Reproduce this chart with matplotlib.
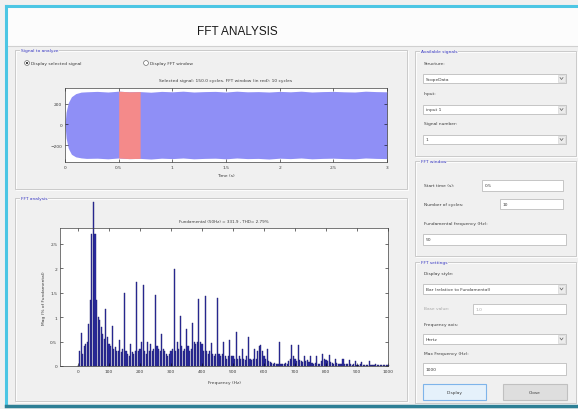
import matplotlib.pyplot as plt
from matplotlib.patches import Rectangle, Circle

W, H = 578, 410

# selected signal: envelope of the scope trace (V) over the 3 s record
sig_time = [0.0, 0.01, 0.03, 0.06, 0.1, 0.15, 0.2, 0.3, 0.4, 0.5, 0.6, 0.7,
            0.8, 0.9, 1.0, 1.1, 1.2, 1.3, 1.4, 1.5, 1.6, 1.7, 1.8, 1.9, 2.0,
            2.1, 2.2, 2.3, 2.4, 2.5, 2.6, 2.7, 2.8, 2.9, 3.0]
sig_upper = [0, 120, 210, 270, 300, 315, 318, 322, 316, 324, 318, 320,
             314, 322, 318, 324, 316, 320, 322, 316, 324, 318, 320, 316, 322,
             318, 324, 316, 320, 322, 318, 316, 324, 320, 318]
sig_lower = [0, -130, -230, -290, -315, -325, -330, -328, -334, -326, -332, -330,
             -336, -328, -332, -326, -334, -330, -328, -334, -326, -332, -330, -336, -328,
             -332, -326, -334, -330, -328, -332, -334, -326, -330, -332]
fft_start = 0.5
fft_stop = 0.7

# FFT magnitude (% of fundamental), 5 Hz bins from 0 to 1000 Hz
fft_mag = [
    0.00, 0.30, 0.68, 0.25, 0.40, 0.45, 0.50, 0.85, 1.35, 2.70,   # 0-45
    3.35, 2.70, 1.35, 1.00, 0.95, 0.80, 0.65, 0.55, 1.17, 0.60,   # 50-95
    0.45, 0.40, 0.82, 0.35, 0.38, 0.30, 0.30, 0.53, 0.28, 0.35,   # 100-145
    1.50, 0.30, 0.25, 0.20, 0.44, 0.28, 0.25, 0.30, 1.72, 0.30,   # 150-195
    0.35, 0.50, 1.65, 0.30, 0.25, 0.50, 0.30, 0.45, 0.30, 0.35,   # 200-245
    1.46, 0.40, 0.35, 0.30, 0.66, 0.35, 0.30, 0.25, 0.20, 0.25,   # 250-295
    0.30, 0.35, 1.99, 0.30, 0.50, 0.35, 1.02, 0.40, 0.30, 0.35,   # 300-345
    0.76, 0.40, 0.30, 0.35, 0.87, 0.50, 0.45, 0.50, 1.36, 0.50,   # 350-395
    0.45, 0.30, 1.44, 0.30, 0.25, 0.30, 0.46, 0.25, 0.20, 0.25,   # 400-445
    1.39, 0.25, 0.20, 0.25, 0.49, 0.20, 0.15, 0.20, 0.54, 0.20,   # 450-495
    0.20, 0.15, 0.69, 0.15, 0.20, 0.15, 0.34, 0.15, 0.12, 0.20,   # 500-545
    0.59, 0.15, 0.12, 0.15, 0.34, 0.15, 0.30, 0.40, 0.43, 0.30,   # 550-595
    0.20, 0.15, 0.34, 0.10, 0.08, 0.06, 0.05, 0.06, 0.05, 0.04,   # 600-645
    0.50, 0.05, 0.04, 0.05, 0.06, 0.05, 0.10, 0.15, 0.43, 0.20,   # 650-695
    0.15, 0.10, 0.43, 0.12, 0.10, 0.08, 0.20, 0.10, 0.12, 0.08,   # 700-745
    0.20, 0.06, 0.05, 0.06, 0.20, 0.05, 0.05, 0.10, 0.24, 0.15,   # 750-795
    0.12, 0.10, 0.22, 0.08, 0.06, 0.05, 0.15, 0.06, 0.05, 0.04,   # 800-845
    0.05, 0.15, 0.04, 0.05, 0.04, 0.12, 0.04, 0.03, 0.04, 0.10,   # 850-895
    0.03, 0.03, 0.04, 0.09, 0.03, 0.03, 0.03, 0.03, 0.10, 0.03,   # 900-945
    0.03, 0.02, 0.04, 0.03, 0.03, 0.03, 0.02, 0.02, 0.02, 0.02,   # 950-995
    0.02,                                                         # 1000
]
fft_freq = [5 * k for k in range(len(fft_mag))]

sig_title = 'Selected signal: 150.0 cycles. FFT window (in red): 10 cycles'
fft_title = 'Fundamental (50Hz) = 331.9 , THD= 2.79%'

BG = '#f0f0f0'
PANEL_TXT = '#3a3ac4'
LABEL_TXT = '#3c3c3c'
SMALL = 3.2


def frac(x0, y0, x1, y1):
    return [x0 / W, 1 - y1 / H, (x1 - x0) / W, (y1 - y0) / H]


fig = plt.figure(figsize=(W / 100, H / 100), dpi=100, facecolor=BG)
gui = fig.add_axes([0, 0, 1, 1])
gui.set_xlim(0, W)
gui.set_ylim(H, 0)
gui.axis('off')

# window frame and header
gui.add_patch(Rectangle((6, 8), W, 39, facecolor='#fcfcfc', edgecolor='none'))
gui.plot([6, W], [47, 47], color='#d0d0d0', lw=0.8)
gui.plot([6, W], [7, 7], color='#4cc6e4', lw=2.2)
gui.plot([6, 6], [7, 406], color='#4cc6e4', lw=2.2)
gui.plot([6, W], [406.5, 406.5], color='#2d7f95', lw=2.5)
gui.text(237, 32, 'FFT ANALYSIS', ha='center', va='center', fontsize=8.5,
         family=['Liberation Sans', 'DejaVu Sans'], color='#1a1a1a')


def panel(x0, y0, x1, y1, title):
    gui.add_patch(Rectangle((x0 + 0.7, y0 + 0.7), x1 - x0, y1 - y0, facecolor='none',
                            edgecolor='#ffffff', lw=0.6))
    gui.add_patch(Rectangle((x0, y0), x1 - x0, y1 - y0, facecolor='none',
                            edgecolor='#c4c4c4', lw=0.6))
    gui.text(x0 + 6, y0, title, ha='left', va='center', fontsize=SMALL, color=PANEL_TXT,
             bbox=dict(facecolor=BG, edgecolor='none', pad=0.6))


def label(x, y, s, color=LABEL_TXT):
    gui.text(x, y, s, ha='left', va='center', fontsize=SMALL, color=color)


def edit_box(x0, y0, x1, y1, s, color=LABEL_TXT, drop=False):
    gui.add_patch(Rectangle((x0, y0), x1 - x0, y1 - y0, facecolor='white',
                            edgecolor='#bdbdbd', lw=0.6))
    gui.text(x0 + 3, (y0 + y1) / 2, s, ha='left', va='center', fontsize=SMALL, color=color)
    if drop:
        gui.add_patch(Rectangle((x1 - 8, y0 + 1), 7, y1 - y0 - 2, facecolor='#ececec',
                                edgecolor='#d0d0d0', lw=0.4))
        gui.plot([x1 - 6, x1 - 4.5, x1 - 3], [(y0 + y1) / 2 - 1, (y0 + y1) / 2 + 1, (y0 + y1) / 2 - 1],
                 color='#606060', lw=0.5)


def button(x0, y0, x1, y1, s, face, edge):
    gui.add_patch(Rectangle((x0, y0), x1 - x0, y1 - y0, facecolor=face, edgecolor=edge, lw=0.8))
    gui.text((x0 + x1) / 2, (y0 + y1) / 2, s, ha='center', va='center', fontsize=SMALL,
             color=LABEL_TXT)


# left side panels
panel(15, 51, 407, 190, 'Signal to analyze')
panel(15, 199, 407, 402, 'FFT analysis')
gui.add_patch(Circle((27, 64), 2.4, facecolor='white', edgecolor='#707070', lw=0.5))
gui.add_patch(Circle((27, 64), 1.1, facecolor='#303030', edgecolor='none'))
label(31, 64, 'Display selected signal')
gui.add_patch(Circle((146, 64), 2.4, facecolor='white', edgecolor='#707070', lw=0.5))
label(150, 64, 'Display FFT window')

# right side panels
panel(415, 52, 576, 157, 'Available signals')
label(424, 64, 'Structure:')
edit_box(423, 75, 566, 84, 'ScopeData', drop=True)
label(424, 94, 'Input:')
edit_box(423, 106, 566, 115, 'input 1', drop=True)
label(424, 124, 'Signal number:')
edit_box(423, 136, 566, 145, '1', drop=True)

panel(415, 162, 576, 257, 'FFT window')
label(424, 186, 'Start time (s):')
edit_box(482, 181, 563, 192, '0.5')
label(424, 205, 'Number of cycles:')
edit_box(500, 200, 563, 210, '10')
label(424, 224, 'Fundamental frequency (Hz):')
edit_box(423, 235, 566, 246, '50')

panel(415, 263, 576, 404, 'FFT settings')
label(424, 274, 'Display style:')
edit_box(423, 285, 566, 295, 'Bar (relative to Fundamental)', drop=True)
label(424, 309, 'Base value:', color='#a8a8a8')
edit_box(473, 305, 566, 315, '1.0', color='#a8a8a8')
label(424, 325, 'Frequency axis:')
edit_box(423, 335, 566, 345, 'Hertz', drop=True)
label(424, 354, 'Max Frequency (Hz):')
edit_box(423, 364, 566, 376, '1000')
button(423, 385, 486, 401, 'Display', '#e5f1fb', '#7eb4ea')
button(503, 385, 567, 401, 'Close', '#dedede', '#c0c0c0')

# selected signal with the FFT window in red
ax1 = fig.add_axes(frac(65, 89, 387, 163))
ax1.fill_between(sig_time, sig_lower, sig_upper, color='#8f8ff6', lw=0)
win_t = [t for t in sig_time if fft_start <= t <= fft_stop]
win_up = [u for t, u in zip(sig_time, sig_upper) if fft_start <= t <= fft_stop]
win_lo = [lo for t, lo in zip(sig_time, sig_lower) if fft_start <= t <= fft_stop]
ax1.fill_between(win_t, win_lo, win_up, color='#f48a8a', lw=0)
ax1.set_xlim(0, 3)
ax1.set_ylim(-365, 355)
ax1.set_xticks([0, 0.5, 1, 1.5, 2, 2.5, 3])
ax1.set_xticklabels(['0', '0.5', '1', '1.5', '2', '2.5', '3'])
ax1.set_yticks([-200, 0, 200])
ax1.set_title(sig_title, fontsize=SMALL, color=LABEL_TXT, pad=5)
ax1.set_xlabel('Time (s)', fontsize=SMALL, color=LABEL_TXT, labelpad=3)

# FFT bar spectrum
ax2 = fig.add_axes(frac(60, 229, 388, 367))
bars = ax2.bar(fft_freq, fft_mag, width=3.6, color='#2a2aa8', edgecolor='#24246e', lw=0.3)
for b in bars:
    b.set_clip_on(False)
ax2.set_xlim(-58, 1000)
ax2.set_ylim(0, 2.82)
ax2.set_xticks(range(0, 1001, 100))
ax2.set_yticks([0, 0.5, 1, 1.5, 2, 2.5])
ax2.set_yticklabels(['0', '0.5', '1', '1.5', '2', '2.5'])
ax2.set_title(fft_title, fontsize=3.0, color=LABEL_TXT, pad=4)
ax2.set_xlabel('Frequency (Hz)', fontsize=SMALL, color=LABEL_TXT, labelpad=5)
ax2.set_ylabel('Mag (% of Fundamental)', fontsize=SMALL, color=LABEL_TXT, labelpad=3)

for ax in (ax1, ax2):
    ax.set_facecolor('white')
    ax.tick_params(direction='in', top=True, right=True, length=2, width=0.4,
                   labelsize=SMALL, labelcolor=LABEL_TXT, pad=2)
    for s in ax.spines.values():
        s.set_linewidth(0.5)
        s.set_color('#404040')

fig.savefig('out.png', dpi=100, facecolor=BG)
